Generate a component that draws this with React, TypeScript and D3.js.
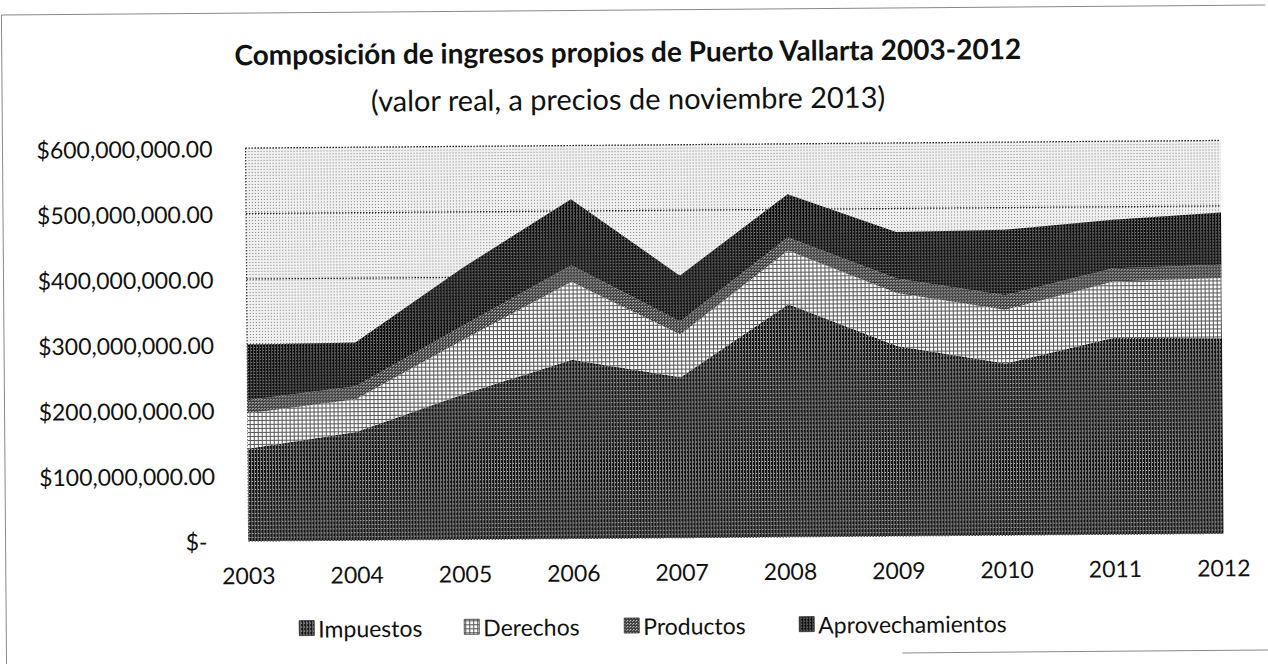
import React from "react";
import * as d3 from "d3";

const years = ["2003", "2004", "2005", "2006", "2007", "2008", "2009", "2010", "2011", "2012"];
const impuestos = [141000000, 165000000, 222000000, 273000000, 245000000, 355000000, 290000000, 262000000, 300000000, 298000000];
const derechos = [54000000, 50000000, 83000000, 119000000, 65000000, 82000000, 81000000, 82000000, 86000000, 92000000];
const productos = [20000000, 20000000, 22000000, 25000000, 20000000, 20000000, 22000000, 22000000, 20000000, 20000000];
const aprovechamientos = [85000000, 67000000, 88000000, 101000000, 70000000, 66000000, 71000000, 100000000, 74000000, 80000000];
const seriesNames = ["Impuestos", "Derechos", "Productos", "Aprovechamientos"];
const yTicks = [0, 100000000, 200000000, 300000000, 400000000, 500000000, 600000000];

const W = 1268;
const H = 664;
const FONT = "Lato, 'Open Sans', sans-serif";
const patternIds = ["pImp", "pDer", "pProd", "pApr"];
const legendX = [297, 462, 622, 797];

const fmt = d3.format("$,.2f");

export default function App() {
  const rows = years.map((yr, i) => ({
    year: yr,
    Impuestos: impuestos[i],
    Derechos: derechos[i],
    Productos: productos[i],
    Aprovechamientos: aprovechamientos[i],
  }));

  const stacked = d3.stack<any>().keys(seriesNames)(rows);

  const x = d3.scalePoint<string>().domain(years).range([247, 1222]);
  const y = d3.scaleLinear().domain([0, 600000000]).range([538, 145]);

  const area = d3
    .area<any>()
    .x((d) => x(d.data.year) as number)
    .y0((d) => y(d[0]))
    .y1((d) => y(d[1]));

  const [x0, x1] = x.range();

  return (
    <svg
      width={W}
      height={H}
      style={{ position: "absolute", left: 0, top: 0, background: "#fff" }}
      fontFamily={FONT}
    >
      <defs>
        <pattern id="pBg" width="3" height="3" patternUnits="userSpaceOnUse">
          <rect width="3" height="3" fill="#f0f0f0" />
          <rect x="1" y="1" width="1" height="1" fill="#808080" />
        </pattern>
        <pattern id="pImp" width="3" height="4" patternUnits="userSpaceOnUse">
          <rect width="3" height="4" fill="#121212" />
          <rect x="1" width="1" height="4" fill="#7e7e7e" />
          <rect x="2" y="2" width="1" height="1" fill="#c8c8c8" />
        </pattern>
        <pattern id="pDer" width="4" height="4" patternUnits="userSpaceOnUse">
          <rect width="4" height="4" fill="#fafafa" />
          <rect x="1" y="0" width="1" height="4" fill="#555" />
          <rect x="0" y="1" width="4" height="1" fill="#555" />
        </pattern>
        <pattern id="pProd" width="3" height="3" patternUnits="userSpaceOnUse">
          <rect width="3" height="3" fill="#3e3e3e" />
          <rect x="0" y="0" width="1" height="1" fill="#f0f0f0" />
          <rect x="2" y="1" width="1" height="1" fill="#b4b4b4" />
        </pattern>
        <pattern id="pApr" width="3" height="3" patternUnits="userSpaceOnUse">
          <rect width="3" height="3" fill="#0a0a0a" />
          <rect x="1" width="1" height="3" fill="#555" />
          <rect x="2" y="2" width="1" height="1" fill="#8a8a8a" />
        </pattern>
      </defs>

      <g transform="rotate(-0.45 634 340)">
        {/* frame */}
        <line x1={4} y1={10} x2={4} y2={664} stroke="#888" strokeWidth={1} />
        <line x1={4} y1={10} x2={1268} y2={10} stroke="#888" strokeWidth={1} />
        <line x1={900} y1={655} x2={1268} y2={655} stroke="#888" strokeWidth={1} />

        <text x={630} y={51} textAnchor="middle" dominantBaseline="central" fontSize={28} fontWeight="bold" fill="#111">
          Composición de ingresos propios de Puerto Vallarta 2003-2012
        </text>
        <text x={630} y={98} textAnchor="middle" dominantBaseline="central" fontSize={29} fill="#111">
          (valor real, a precios de noviembre 2013)
        </text>

        {/* plot background */}
        <rect x={x0} y={y(600000000)} width={x1 - x0} height={y(0) - y(600000000)} fill="url(#pBg)" />
        {yTicks.map((t) => (
          <line
            key={t}
            x1={x0}
            x2={x1}
            y1={y(t)}
            y2={y(t)}
            stroke="#222"
            strokeWidth={1.2}
            strokeDasharray="1.5 1.5"
          />
        ))}
        <line x1={x0} x2={x0} y1={y(600000000)} y2={y(0)} stroke="#333" strokeWidth={1} strokeDasharray="1.5 1.5" />

        {stacked.map((s, i) => (
          <path key={s.key} d={area(s as any) || ""} fill={`url(#${patternIds[i]})`} />
        ))}

        {yTicks.map((t) => (
          <text
            key={t}
            x={t === 0 ? 206 : 214}
            y={y(t)}
            textAnchor="end"
            dominantBaseline="central"
            fontSize={23}
            fill="#111"
          >
            {t === 0 ? "$-" : fmt(t)}
          </text>
        ))}

        {years.map((yr) => (
          <text key={yr} x={x(yr)} y={572} textAnchor="middle" dominantBaseline="central" fontSize={23} fill="#111">
            {yr}
          </text>
        ))}

        {seriesNames.map((name, i) => (
          <g key={name} transform={`translate(${legendX[i]}, 626)`}>
            <rect x={0} y={-8} width={15} height={15} fill={`url(#${patternIds[i]})`} stroke="#333" strokeWidth={0.8} />
            <text x={19} y={0} dominantBaseline="central" fontSize={23} fill="#111">
              {name}
            </text>
          </g>
        ))}
      </g>
    </svg>
  );
}
